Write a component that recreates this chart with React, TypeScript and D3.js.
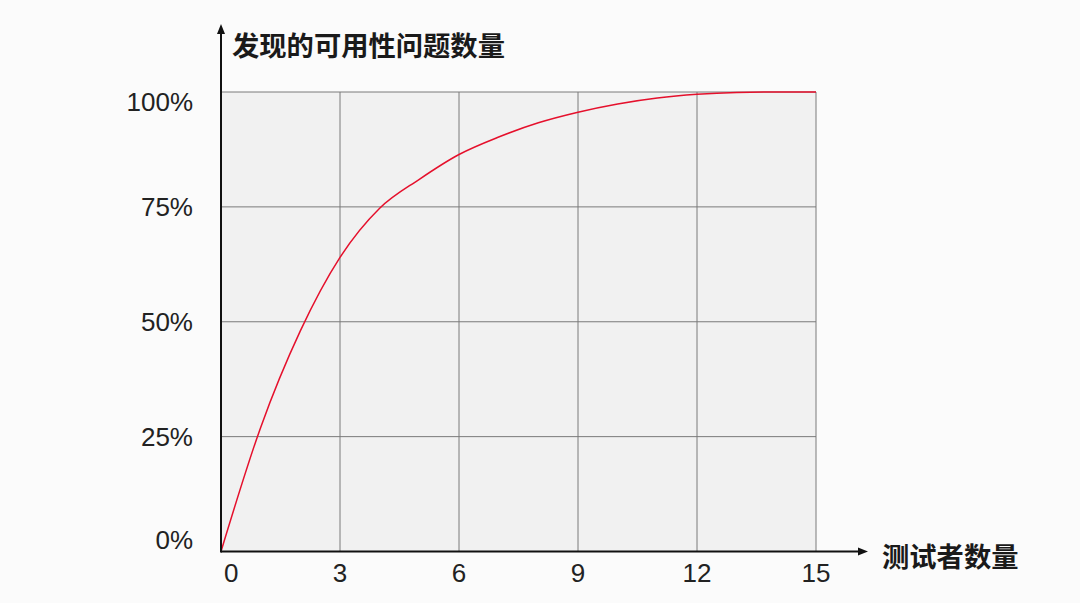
import React from "react";
import * as d3 from "d3";

const WIDTH = 1080;
const HEIGHT = 603;

const X_LEFT = 221;
const X_RIGHT = 816;
const Y_TOP = 92;
const Y_BOTTOM = 551.5;

const X_ARROW_END = 868;
const Y_ARROW_END = 24;

const LABEL_FONT = "'Helvetica Neue', 'Liberation Sans', Arial, sans-serif";
const CJK_FONT = "'Noto Sans CJK SC', 'Noto Sans', sans-serif";

const FULL_PAGE_STYLE: React.CSSProperties = {position: "absolute", left: 0, top: 0, width: WIDTH, height: HEIGHT};

// number of testers and share of usability problems found (%)
const testers = [0, 1, 2, 3, 4, 5, 6, 7, 8, 9, 10, 11, 12, 13, 14, 15];
const foundPct = [0, 27, 48, 64, 74.7, 81, 86.4, 90.2, 93.3, 95.6, 97.4, 98.7, 99.5, 99.9, 100, 100];

const xTicks = [0, 3, 6, 9, 12, 15];
const yTicks = [0, 25, 50, 75, 100];

const yTitle = "发现的可用性问题数量";
const xTitle = "测试者数量";

export default class App extends React.Component<{}, any> {

    ref = React.createRef<HTMLDivElement>();

    componentDidMount() {
        d3.select(this.ref.current).selectAll("*").remove();

        const svg = d3.select(this.ref.current).append("svg")
            .attr("width", WIDTH)
            .attr("height", HEIGHT)
            .attr("viewBox", [0, 0, WIDTH, HEIGHT].toString());

        svg.append("rect").attr("width", WIDTH).attr("height", HEIGHT).attr("fill", "#fbfbfb");

        const x = d3.scaleLinear().domain([0, 15]).range([X_LEFT, X_RIGHT]);
        const y = d3.scaleLinear().domain([0, 100]).range([Y_BOTTOM, Y_TOP]);

        // plot background
        svg.append("rect")
            .attr("x", x(0))
            .attr("y", y(100))
            .attr("width", x(15) - x(0))
            .attr("height", y(0) - y(100))
            .attr("fill", "#f1f1f1");

        // grid
        const grid = svg.append("g").attr("stroke", "#7a7a7a").attr("stroke-width", 1);
        grid.selectAll(".vline")
            .data(xTicks.filter(d => d > 0))
            .enter()
            .append("line")
            .attr("x1", d => x(d))
            .attr("x2", d => x(d))
            .attr("y1", y(100))
            .attr("y2", y(0));
        grid.selectAll(".hline")
            .data(yTicks.filter(d => d > 0))
            .enter()
            .append("line")
            .attr("x1", x(0))
            .attr("x2", x(15))
            .attr("y1", d => y(d))
            .attr("y2", d => y(d));

        // curve
        const line = d3.line<number>()
            .x((d, i) => x(testers[i]))
            .y(d => y(d))
            .curve(d3.curveMonotoneX);

        svg.append("path")
            .datum(foundPct)
            .attr("fill", "none")
            .attr("stroke", "#e5102c")
            .attr("stroke-width", 1.5)
            .attr("d", line);

        // axes with arrows
        const axes = svg.append("g").attr("stroke", "#111").attr("stroke-width", 2);
        axes.append("line").attr("x1", x(0)).attr("x2", X_ARROW_END - 6).attr("y1", y(0)).attr("y2", y(0));
        axes.append("line").attr("x1", x(0)).attr("x2", x(0)).attr("y1", y(0) + 1).attr("y2", Y_ARROW_END + 6);

        svg.append("path")
            .attr("fill", "#111")
            .attr("d", `M${X_ARROW_END},${y(0)} l-10,-4 v8 z`);
        svg.append("path")
            .attr("fill", "#111")
            .attr("d", `M${x(0)},${Y_ARROW_END} l-4,10 h8 z`);

        // y tick labels
        svg.append("g")
            .attr("font-family", LABEL_FONT)
            .attr("font-size", 26)
            .attr("fill", "#222")
            .attr("text-anchor", "end")
            .selectAll("text")
            .data(yTicks)
            .enter()
            .append("text")
            .attr("x", 193)
            .attr("y", d => d === 0 ? y(d) - 3 : d === 100 ? y(d) + 19 : y(d) + 9)
            .text(d => d + "%");

        // x tick labels
        svg.append("g")
            .attr("font-family", LABEL_FONT)
            .attr("font-size", 26)
            .attr("fill", "#222")
            .selectAll("text")
            .data(xTicks)
            .enter()
            .append("text")
            .attr("x", d => d === 0 ? x(d) + 3 : x(d))
            .attr("y", 581.5)
            .attr("text-anchor", d => d === 0 ? "start" : "middle")
            .text(d => d);

        // titles
        svg.append("text")
            .attr("x", 232)
            .attr("y", 55.5)
            .attr("font-family", CJK_FONT)
            .attr("font-weight", 700)
            .attr("font-size", 27.3)
            .attr("fill", "#1a1a1a")
            .text(yTitle);

        svg.append("text")
            .attr("x", 882)
            .attr("y", 566.5)
            .attr("font-family", CJK_FONT)
            .attr("font-weight", 700)
            .attr("font-size", 27.3)
            .attr("fill", "#1a1a1a")
            .text(xTitle);
    }

    render() {
        return <div style={FULL_PAGE_STYLE} ref={this.ref}/>
    }
}
